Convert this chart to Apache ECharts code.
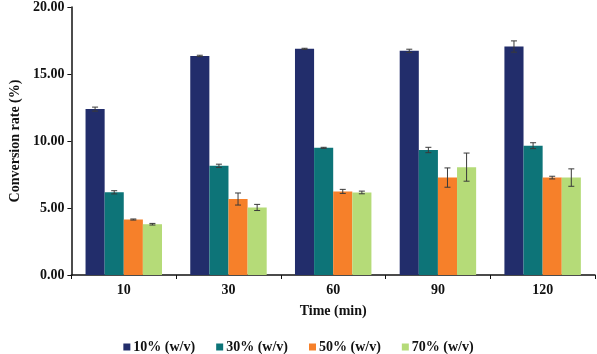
<!DOCTYPE html>
<html><head><meta charset="utf-8">
<script src="https://cdn.jsdelivr.net/npm/echarts@6/dist/echarts.min.js"></script>
<style>html,body{margin:0;padding:0;background:#fff}#c{width:597px;height:354px}</style>
</head><body><div id="c"></div>
<script>
var categories = ['10', '30', '60', '90', '120'];
var seriesNames = ['10% (w/v)', '30% (w/v)', '50% (w/v)', '70% (w/v)'];
var values10 = [12.38, 16.35, 16.88, 16.73, 17.05];
var values30 = [6.17, 8.15, 9.49, 9.33, 9.65];
var values50 = [4.14, 5.67, 6.24, 7.27, 7.27];
var values70 = [3.79, 5.04, 6.16, 8.05, 7.27];
var err10 = [0.15, 0.05, 0.04, 0.12, 0.42];
var err30 = [0.12, 0.12, 0.04, 0.2, 0.22];
var err50 = [0.04, 0.45, 0.15, 0.72, 0.1];
var err70 = [0.06, 0.23, 0.1, 1.05, 0.65];
var yTicks = [0, 5, 10, 15, 20];

var colors = ['#222D6B', '#0D7478', '#F6802A', '#B5DB78'];
var allValues = [values10, values30, values50, values70];
var allErr = [err10, err30, err50, err70];
var catGap = 0.27;
var font = '"Liberation Serif", "Times New Roman", serif';

var series = [];
seriesNames.forEach(function (n, i) {
  series.push({
    name: n, type: 'bar', data: allValues[i], barGap: '0%', barCategoryGap: (catGap * 100) + '%',
    itemStyle: { color: colors[i] }, z: 2
  });
});
seriesNames.forEach(function (n, i) {
  series.push({
    type: 'custom', name: n + ' err', z: 5, silent: true,
    data: allValues[i].map(function (v, k) { return [k, v, allErr[i][k]]; }),
    encode: { x: 0, y: 1 },
    renderItem: function (params, api) {
      var k = api.value(0), v = api.value(1), e = api.value(2);
      var band = api.size([1, 0])[0];
      var bw = band * (1 - catGap) / 4;
      var c = api.coord([k, v]);
      var x = c[0] + (i - 1.5) * bw;
      var top = api.coord([k, v + e])[1];
      var bot = api.coord([k, v - e])[1];
      var cap = 3;
      var st = { stroke: '#3a3a3a', lineWidth: 1 };
      return { type: 'group', children: [
        { type: 'line', shape: { x1: x, y1: top, x2: x, y2: bot }, style: st },
        { type: 'line', shape: { x1: x - cap, y1: top, x2: x + cap, y2: top }, style: st },
        { type: 'line', shape: { x1: x - cap, y1: bot, x2: x + cap, y2: bot }, style: st }
      ] };
    }
  });
});

var chart = echarts.init(document.getElementById('c'), null, { renderer: 'canvas' });
chart.setOption({
  animation: false,
  textStyle: { fontFamily: font },
  grid: { left: 63, right: 2, top: 6, bottom: 79 },
  legend: {
    data: seriesNames, bottom: 0, left: 'center', itemWidth: 7, itemHeight: 7, itemGap: 21,
    padding: [0, 5, 0, 5],
    icon: 'rect',
    textStyle: { fontFamily: font, fontWeight: 'bold', fontSize: 14, color: '#111', padding: [0, 0, 0, -2] }
  },
  xAxis: {
    type: 'category', data: categories,
    name: 'Time (min)', nameLocation: 'middle', nameGap: 29,
    nameTextStyle: { fontFamily: font, fontWeight: 'bold', fontSize: 14, color: '#111' },
    axisLine: { lineStyle: { color: '#111', width: 1.5 } },
    axisTick: { show: true, length: 4, lineStyle: { color: '#111' } },
    axisLabel: { fontFamily: font, fontWeight: 'bold', fontSize: 14, color: '#111', margin: 8 }
  },
  yAxis: {
    type: 'value', min: 0, max: 20, interval: 5,
    name: 'Conversion rate (%)', nameLocation: 'middle', nameGap: 48,
    nameTextStyle: { fontFamily: font, fontWeight: 'bold', fontSize: 14, color: '#111' },
    axisLine: { show: true, lineStyle: { color: '#111', width: 1.5 } },
    axisTick: { show: true, length: 4, lineStyle: { color: '#111' } },
    splitLine: { show: false },
    axisLabel: { fontFamily: font, fontWeight: 'bold', fontSize: 14, color: '#111', margin: 7,
      formatter: function (v) { return v.toFixed(2); } }
  },
  series: series
});
</script></body></html>
